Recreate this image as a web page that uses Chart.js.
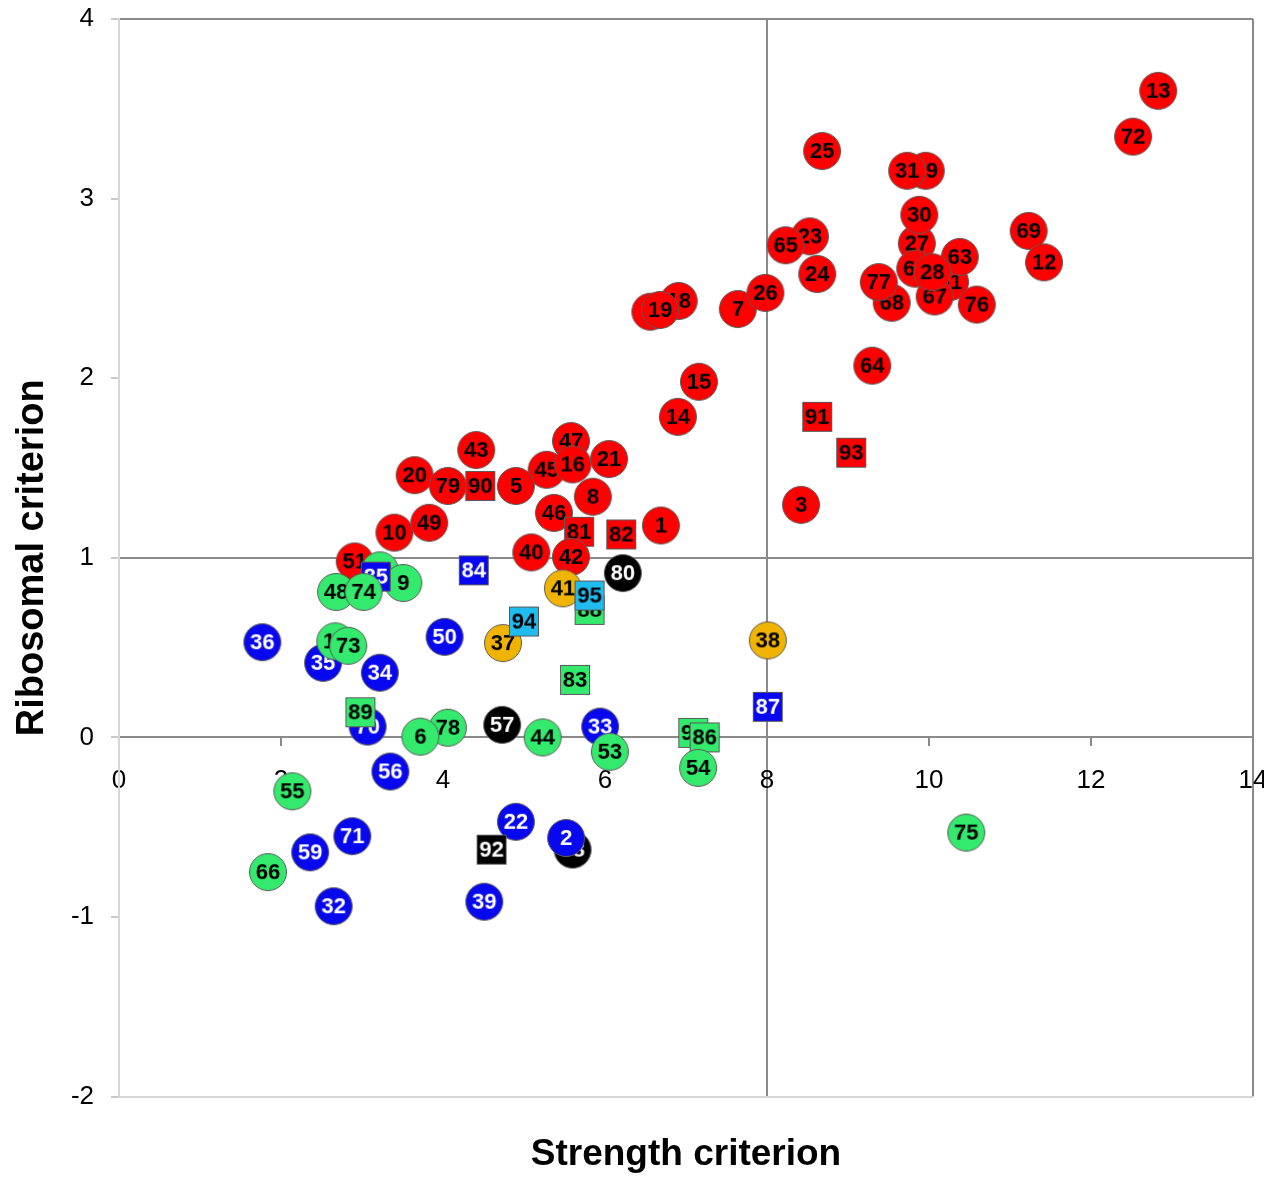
<!DOCTYPE html>
<html>
<head>
<meta charset="utf-8">
<script src="https://cdn.jsdelivr.net/npm/chart.js@4.4.1/dist/chart.umd.min.js"></script>
<style>
  html, body { margin: 0; padding: 0; background: #fff; }
  #wrap { width: 1264px; height: 1177px; }
</style>
</head>
<body>
<div id="wrap"><canvas id="chart" width="1264" height="1177"></canvas></div>
<script>
// sample numbers, listed back to front (later ones are drawn on top)
const ids = [4, 18, 19, 7, 26, 25, 29, 31, 23, 65,
             24, 27, 30, 61, 63, 60, 67, 28, 68, 77,
             76, 69, 12, 13, 72, 15, 64, 14, 3, 91,
             93, 43, 45, 47, 16, 21, 20, 79, 90, 5,
             8, 46, 81, 82, 1, 10, 49, 40, 42, 51,
             52, 9, 85, 48, 74, 84, 80, 41, 88, 95,
             37, 94, 50, 36, 35, 17, 73, 34, 83, 70,
             89, 78, 6, 57, 44, 33, 53, 38, 87, 96,
             86, 54, 56, 55, 71, 59, 66, 32, 22, 92,
             58, 2, 39, 75];

const strength = [6.56, 6.91, 6.68, 7.64, 7.98, 8.68, 9.96, 9.73, 8.53, 8.23,
                  8.62, 9.85, 9.88, 10.26, 10.38, 9.83, 10.07, 10.04, 9.54, 9.38,
                  10.59, 11.23, 11.42, 12.83, 12.52, 7.16, 9.30, 6.90, 8.42, 8.62,
                  9.04, 4.41, 5.28, 5.58, 5.60, 6.05, 3.65, 4.06, 4.46, 4.90,
                  5.85, 5.37, 5.68, 6.20, 6.69, 3.40, 3.83, 5.09, 5.58, 2.91,
                  3.22, 3.51, 3.17, 2.68, 3.02, 4.38, 6.22, 5.48, 5.81, 5.81,
                  4.74, 5.00, 4.02, 1.77, 2.52, 2.67, 2.83, 3.22, 5.63, 3.07,
                  2.98, 4.06, 3.72, 4.73, 5.23, 5.94, 6.06, 8.01, 8.01, 7.09,
                  7.23, 7.15, 3.35, 2.14, 2.88, 2.36, 1.84, 2.65, 4.90, 4.60,
                  5.60, 5.52, 4.51, 10.46];

const ribosomal = [2.37, 2.43, 2.38, 2.385, 2.475, 3.265, 3.155, 3.155, 2.79, 2.74,
                   2.58, 2.75, 2.91, 2.535, 2.675, 2.61, 2.455, 2.59, 2.42, 2.535,
                   2.41, 2.82, 2.645, 3.60, 3.345, 1.98, 2.07, 1.785, 1.295, 1.785,
                   1.585, 1.60, 1.49, 1.65, 1.52, 1.55, 1.46, 1.40, 1.40, 1.40,
                   1.34, 1.25, 1.145, 1.13, 1.18, 1.14, 1.195, 1.03, 1.005, 0.98,
                   0.93, 0.86, 0.895, 0.81, 0.81, 0.93, 0.915, 0.83, 0.71, 0.79,
                   0.525, 0.645, 0.56, 0.53, 0.415, 0.535, 0.51, 0.36, 0.32, 0.06,
                   0.14, 0.054, 0.004, 0.07, 0.0, 0.06, -0.08, 0.54, 0.17, 0.025,
                   0.0, -0.17, -0.19, -0.30, -0.55, -0.64, -0.75, -0.94, -0.47, -0.625,
                   -0.625, -0.56, -0.915, -0.53];

const cluster = ['A', 'A', 'A', 'A', 'A', 'A', 'A', 'A', 'A', 'A',
                 'A', 'A', 'A', 'A', 'A', 'A', 'A', 'A', 'A', 'A',
                 'A', 'A', 'A', 'A', 'A', 'A', 'A', 'A', 'A', 'A',
                 'A', 'A', 'A', 'A', 'A', 'A', 'A', 'A', 'A', 'A',
                 'A', 'A', 'A', 'A', 'A', 'A', 'A', 'A', 'A', 'A',
                 'B', 'B', 'C', 'B', 'B', 'C', 'D', 'E', 'B', 'F',
                 'E', 'F', 'C', 'C', 'C', 'B', 'B', 'C', 'B', 'C',
                 'B', 'B', 'B', 'D', 'B', 'C', 'B', 'E', 'C', 'B',
                 'B', 'B', 'C', 'B', 'C', 'C', 'B', 'C', 'C', 'D',
                 'D', 'C', 'C', 'B'];

// samples drawn as squares
const probes = [81, 82, 83, 84, 85, 86, 87, 88, 89, 90, 91, 92, 93, 94, 95, 96];

const xTicks = [0, 2, 4, 6, 8, 10, 12, 14];
const yTicks = [-2, -1, 0, 1, 2, 3, 4];

const fills = { A: '#ff0000', B: '#33ea6c', C: '#0808ee', D: '#000000', E: '#f0b400', F: '#20bcee' };
const inks = { A: '#000', B: '#000', C: '#fff', D: '#fff', E: '#000', F: '#000' };
const FONT = '"Liberation Sans", Arial, Helvetica, sans-serif';

Chart.defaults.font.family = FONT;
Chart.defaults.color = '#000';

function makeMarker(text, grp, square) {
    const c = document.createElement('canvas');
    c.width = 40;
    c.height = 40;
    const g = c.getContext('2d');
    g.fillStyle = fills[grp];
    g.strokeStyle = '#5a5a5a';
    g.lineWidth = 1;
    if (square) {
        g.fillRect(5, 5, 30, 30);
        g.strokeRect(5.5, 5.5, 29, 29);
    } else {
        g.beginPath();
        g.arc(20, 20, 18.5, 0, Math.PI * 2);
        g.fill();
        g.stroke();
    }
    g.fillStyle = inks[grp];
    g.font = 'bold 22px ' + FONT;
    g.textAlign = 'center';
    g.textBaseline = 'middle';
    g.fillText(String(text), 20, 21);
    return c;
}

const markers = ids.map((id, i) => makeMarker(id, cluster[i], probes.includes(id)));
const points = ids.map((id, i) => ({ x: strength[i], y: ribosomal[i] }));

const refColor = '#8a8a8a';

new Chart(document.getElementById('chart'), {
    type: 'scatter',
    data: {
        datasets: [{
            data: points,
            pointStyle: markers,
            pointRadius: 18,
            pointHoverRadius: 18
        }]
    },
    options: {
        responsive: false,
        animation: false,
        events: [],
        layout: { autoPadding: false, padding: { left: 0, right: 11, top: 19, bottom: 0 } },
        plugins: {
            legend: { display: false },
            tooltip: { enabled: false },
            title: {
                display: true,
                position: 'bottom',
                fullSize: false,
                text: 'Strength criterion',
                color: '#000',
                font: { size: 37, weight: 'bold' },
                padding: { top: 36, bottom: 0 }
            }
        },
        scales: {
            x: {
                type: 'linear',
                min: 0,
                max: 14,
                position: { y: 0 },
                afterBuildTicks: s => { s.ticks = xTicks.map(v => ({ value: v })); },
                afterFit: s => { s.paddingLeft = 0; s.paddingRight = 0; },
                ticks: { color: '#000', font: { size: 26 }, padding: 20 },
                grid: {
                    color: ctx => ctx.tick && ctx.tick.value === 14 ? refColor : 'transparent',
                    lineWidth: 2,
                    tickColor: refColor,
                    tickLength: 8
                },
                border: { color: refColor, width: 2 }
            },
            xRef: {
                type: 'linear',
                axis: 'x',
                min: 0,
                max: 14,
                position: { y: 0 },
                z: 1,
                afterBuildTicks: s => { s.ticks = xTicks.map(v => ({ value: v })); },
                afterFit: s => { s.paddingLeft = 0; s.paddingRight = 0; },
                ticks: { display: false },
                grid: {
                    color: ctx => ctx.tick && ctx.tick.value === 8 ? refColor : 'transparent',
                    lineWidth: 2,
                    drawTicks: false
                },
                border: { display: false }
            },
            y: {
                type: 'linear',
                min: -2,
                max: 4,
                z: 1,
                afterBuildTicks: s => { s.ticks = yTicks.map(v => ({ value: v })); },
                afterFit: s => { s.width = 119; s.paddingTop = 0; s.paddingBottom = 0; },
                ticks: { color: '#000', font: { size: 26 }, padding: 17 },
                grid: {
                    color: ctx => {
                        const v = ctx.tick && ctx.tick.value;
                        if (v === 4 || v === 1) return refColor;
                        if (v === -2) return '#d6d6d6';
                        return 'transparent';
                    },
                    lineWidth: 2,
                    tickColor: '#c8c8c8',
                    tickLength: 8
                },
                border: { color: '#d6d6d6', width: 2 },
                title: {
                    display: true,
                    text: 'Ribosomal criterion',
                    color: '#000',
                    font: { size: 38, weight: 'bold' },
                    padding: { top: 10, bottom: 0 }
                }
            }
        }
    }
});
</script>
</body>
</html>
